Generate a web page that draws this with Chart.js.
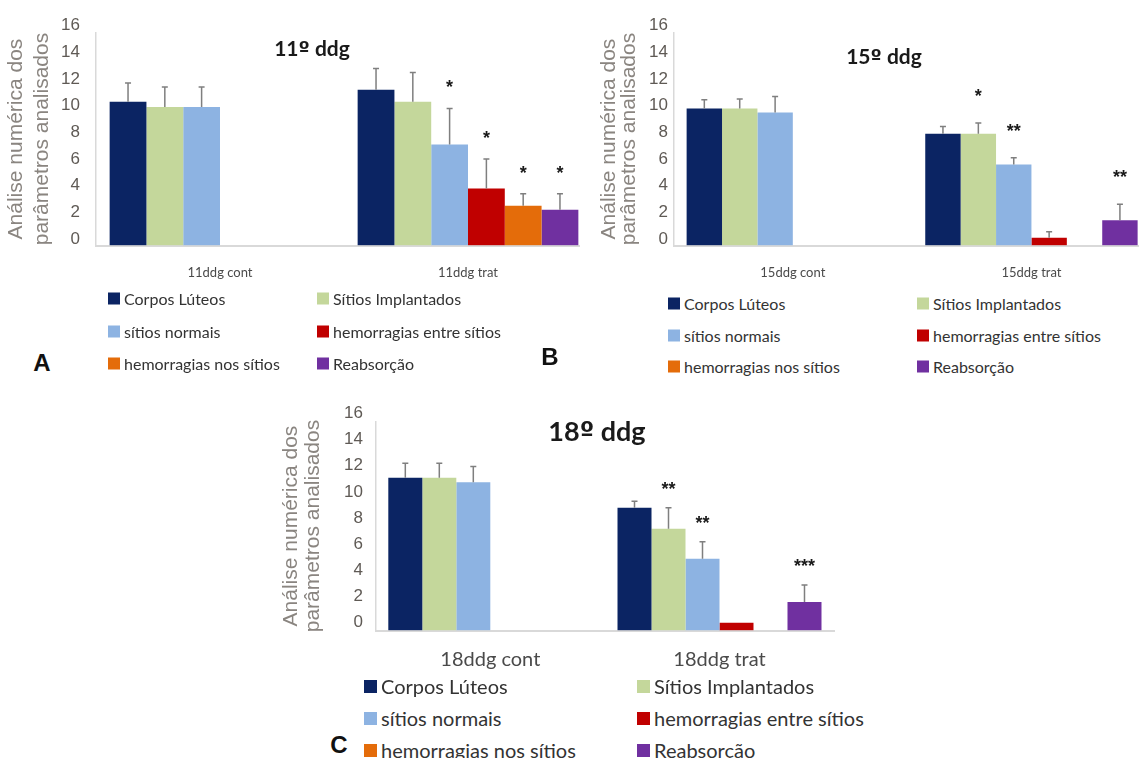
<!DOCTYPE html>
<html lang="pt">
<head>
<meta charset="utf-8">
<title>Parâmetros analisados - 11º, 15º e 18º ddg</title>
<script src="https://cdn.jsdelivr.net/npm/chart.js@4.4.1/dist/chart.umd.min.js"></script>
<style>
  html, body { margin: 0; padding: 0; background: #fff; }
  body { width: 1139px; height: 758px; position: relative; overflow: hidden; }
  .panel { position: absolute; overflow: hidden; }
  .panel canvas { position: absolute; left: 0; top: 0; }
  .title { position: absolute; font-family: Lato, "Open Sans", sans-serif; font-weight: 700; color: #1a1a1a; transform: translate(-50%, -50%); white-space: nowrap; }
  .title .ord { font-family: "DejaVu Sans", sans-serif; font-size: 0.95em; }
  .letter { position: absolute; font-family: "Liberation Sans", Arial, sans-serif; font-weight: 700; color: #111; transform: translate(-50%, -50%); }
  .leg { position: absolute; display: flex; align-items: center; font-family: Lato, "Open Sans", sans-serif; color: #333; white-space: nowrap; transform: translateY(-50%); }
  .leg span.sw { display: inline-block; margin-right: 4px; }
</style>
</head>
<body>

<div class="panel" id="pa" style="left:0;top:0;width:580px;height:290px;"><canvas id="chartA" width="600" height="290"></canvas></div>
<div class="panel" id="pb" style="left:585px;top:0;width:554px;height:290px;"><canvas id="chartB" width="570" height="290"></canvas></div>
<div class="panel" id="pc" style="left:280px;top:395px;width:570px;height:290px;"><canvas id="chartC" width="570" height="290"></canvas></div>

<div class="title" style="left:312px;top:48px;font-size:21px;">11<span class="ord">º</span> ddg</div>
<div class="title" style="left:884px;top:56px;font-size:21px;">15<span class="ord">º</span> ddg</div>
<div class="title" style="left:597px;top:430px;font-size:27px;">18<span class="ord">º</span> ddg</div>

<div class="letter" style="left:42px;top:363px;font-size:24px;">A</div>
<div class="letter" style="left:550px;top:357px;font-size:24px;">B</div>
<div class="letter" style="left:339px;top:745px;font-size:24px;">C</div>

<div id="legA"></div>
<div id="legB"></div>
<div id="legC"></div>

<script>
// series shared by the three panels
const seriesNames = ["Corpos Lúteos", "Sítios Implantados", "sítios normais",
                     "hemorragias entre sítios", "hemorragias nos sítios", "Reabsorção"];
const seriesColors = ["#0b2463", "#c4d79b", "#8db3e2", "#c00000", "#e46c0a", "#7030a0"];
const yTicks = [0, 2, 4, 6, 8, 10, 12, 14, 16];

// 11º ddg
const categoriesA = ["11ddg cont", "11ddg trat"];
const contA    = [10.8, 10.4, 10.4];
const contErrA = [1.4, 1.5, 1.5];
const tratA    = [11.7, 10.8, 7.6, 4.3, 3.0, 2.7];
const tratErrA = [1.6, 2.2, 2.7, 2.2, 0.9, 1.2];
const sigA     = ["", "", "*", "*", "*", "*"];

// 15º ddg
const categoriesB = ["15ddg cont", "15ddg trat"];
const contB    = [10.3, 10.3, 10.0];
const contErrB = [0.65, 0.7, 1.2];
const tratB    = [8.4, 8.4, 6.1, 0.6, 0, 1.9];
const tratErrB = [0.55, 0.8, 0.5, 0.45, null, 1.2];
const sigB     = ["", "*", "**", "", "", "**"];

// 18º ddg
const categoriesC = ["18ddg cont", "18ddg trat"];
const contC    = [11.7, 11.7, 11.35];
const contErrC = [1.1, 1.1, 1.2];
const tratC    = [9.4, 7.8, 5.5, 0.6, 0, 2.2];
const tratErrC = [0.5, 1.6, 1.3, null, null, 1.3];
const sigC     = ["", "**", "**", "", "", "***"];

const yTitle = ["Análise numérica dos", "parâmetros analisados"];

// error bars (upward only) and significance stars
const errorBarPlugin = {
  id: "errorBars",
  afterDatasetsDraw(chart, args, opts) {
    const ctx = chart.ctx;
    const y = chart.scales.y;
    ctx.save();
    chart.data.datasets.forEach((ds, i) => {
      const meta = chart.getDatasetMeta(i);
      meta.data.forEach((bar, j) => {
        const v = ds.data[j];
        if (v === null || v === undefined) return;
        const e = ds.errors[j];
        let top = y.getPixelForValue(v);
        if (e) {
          top = y.getPixelForValue(v + e);
          ctx.strokeStyle = "#7f7f7f";
          ctx.lineWidth = 1.5;
          ctx.beginPath();
          ctx.moveTo(bar.x, y.getPixelForValue(v));
          ctx.lineTo(bar.x, top);
          ctx.moveTo(bar.x - 3, top);
          ctx.lineTo(bar.x + 3, top);
          ctx.stroke();
        }
        const s = ds.sig[j];
        if (s) {
          ctx.fillStyle = "#1a1a1a";
          ctx.font = "bold " + opts.starSize + "px 'Liberation Sans', Arial, sans-serif";
          ctx.textAlign = "center";
          ctx.textBaseline = "middle";
          ctx.fillText(s, bar.x, top - opts.starGap);
        }
      });
    });
    ctx.restore();
  }
};

function makeDatasets(cont, contErr, trat, tratErr, sig) {
  return seriesNames.map((name, i) => ({
    label: name,
    data: [cont[i] ?? null, trat[i] ?? null],
    errors: [contErr[i] ?? null, tratErr[i] ?? null],
    sig: ["", sig[i]],
    backgroundColor: seriesColors[i],
    borderWidth: 0,
    categoryPercentage: 0.89,
    barPercentage: 1.0
  }));
}

function makeChart(id, labels, datasets, g) {
  return new Chart(document.getElementById(id), {
    type: "bar",
    data: { labels: labels, datasets: datasets },
    plugins: [errorBarPlugin],
    options: {
      responsive: false,
      animation: false,
      layout: { padding: { top: g.padTop, right: g.padRight, left: 0, bottom: 0 } },
      plugins: {
        legend: { display: false },
        tooltip: { enabled: false },
        errorBars: { starGap: g.starGap, starSize: g.starSize }
      },
      scales: {
        x: {
          grid: { drawOnChartArea: false, drawTicks: false },
          border: { color: "#d9d9d9", width: 2 },
          ticks: {
            color: "#4a4a4a",
            padding: g.xPad,
            font: { family: "Lato, 'Open Sans', sans-serif", size: g.xFont }
          },
          afterFit: s => { s.height = g.xHeight; }
        },
        y: {
          min: 0,
          max: 16,
          afterBuildTicks: s => { s.ticks = yTicks.map(v => ({ value: v })); },
          grid: { drawOnChartArea: false, drawTicks: false },
          border: { color: "#d9d9d9", width: 1.5 },
          ticks: {
            color: "#5f5a55",
            padding: g.yPad,
            labelOffset: g.labelOffset,
            font: { family: "'Liberation Sans', Arial, sans-serif", size: 17 }
          },
          title: {
            display: true,
            text: yTitle,
            color: "#8a8580",
            padding: { top: g.titlePad, bottom: 0 },
            font: { family: "'Liberation Sans', Arial, sans-serif", size: 21, lineHeight: g.titleLH }
          },
          afterFit: s => { s.width = g.yWidth; }
        }
      }
    }
  });
}

function makeLegend(id, g) {
  const box = document.getElementById(id);
  seriesNames.forEach((name, i) => {
    const item = document.createElement("div");
    item.className = "leg";
    item.style.left = (i % 2 ? g.x2 : g.x1) + "px";
    item.style.top = g.rows[Math.floor(i / 2)] + "px";
    item.style.fontSize = g.font + "px";
    const sw = document.createElement("span");
    sw.className = "sw";
    sw.style.width = g.sw + "px";
    sw.style.height = g.sw + "px";
    sw.style.background = seriesColors[i];
    item.appendChild(sw);
    item.appendChild(document.createTextNode(name));
    box.appendChild(item);
  });
}

makeChart("chartA", categoriesA, makeDatasets(contA, contErrA, tratA, tratErrA, sigA), {
  padTop: 32.4, padRight: 8, xHeight: 44.3, yWidth: 96, yPad: 16, labelOffset: -6.7,
  xPad: 19, xFont: 13, titlePad: 4, titleLH: 1.2, starGap: 20, starSize: 18
});
makeChart("chartB", categoriesB, makeDatasets(contB, contErrB, tratB, tratErrB, sigB), {
  padTop: 32.4, padRight: 4.25, xHeight: 44.3, yWidth: 88.5, yPad: 5.5, labelOffset: -6.7,
  xPad: 19, xFont: 13, titlePad: 14, titleLH: 0.95, starGap: 26, starSize: 18
});
makeChart("chartC", categoriesC, makeDatasets(contC, contErrC, tratC, tratErrC, sigC), {
  padTop: 26.4, padRight: 15.9, xHeight: 54.3, yWidth: 95.7, yPad: 12.7, labelOffset: -8,
  xPad: 17, xFont: 20, titlePad: 0, titleLH: 1.05, starGap: 18, starSize: 18
});

makeLegend("legA", { x1: 108, x2: 317, rows: [298, 331, 363], font: 16, sw: 12 });
makeLegend("legB", { x1: 668, x2: 917, rows: [303, 335, 366], font: 16, sw: 12 });
makeLegend("legC", { x1: 364, x2: 637, rows: [686, 718, 750], font: 20, sw: 13 });
</script>
</body>
</html>
